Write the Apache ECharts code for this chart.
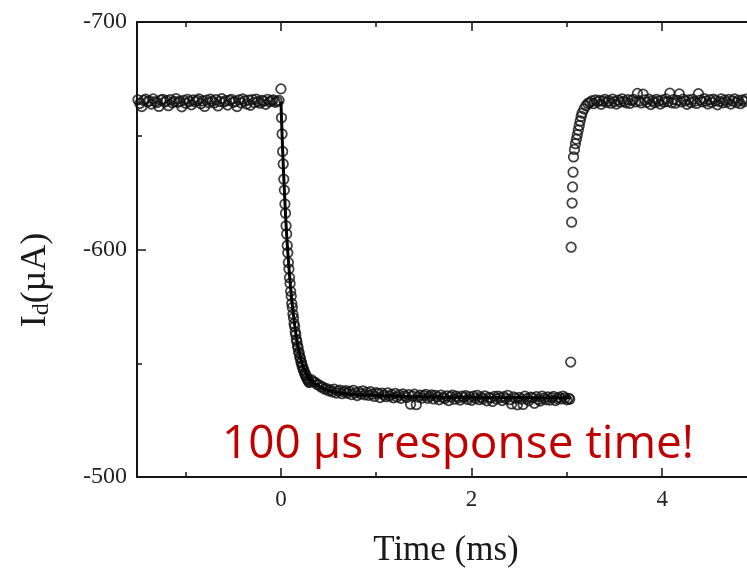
<!DOCTYPE html>
<html>
<head>
<meta charset="utf-8">
<script src="https://cdn.jsdelivr.net/npm/echarts@6/dist/echarts.min.js"></script>
<style>
  html, body { margin: 0; padding: 0; background: #fff; }
  #chart { width: 747px; height: 571px; }
</style>
</head>
<body>
<div id="chart"></div>
<script>
// Drain current I_d (µA) sampled against time (ms): a step down at t = 0 and back up at ~3.04 ms.

// Steady level before the step, t = -1.50 ... -0.02 ms, every 0.02 ms
const baseStart = -1.5, baseStep = 0.02;
const baseValues = [
  -665.8,-664.2,-662.8,-665.5,-666.1,-664.9,-665.3,-663.9,-666.2,-665.0,
  -664.6,-662.9,-665.7,-666.0,-664.8,-665.4,-663.2,-665.9,-664.5,-665.1,
  -666.3,-664.7,-665.2,-662.7,-665.6,-664.3,-666.0,-665.0,-663.6,-665.8,
  -664.9,-665.5,-666.2,-664.1,-665.3,-662.9,-665.7,-664.6,-666.1,-665.2,
  -664.4,-665.9,-663.1,-665.0,-666.3,-664.8,-665.4,-663.5,-665.6,-666.0,
  -664.7,-665.1,-662.8,-665.8,-664.5,-666.2,-665.3,-664.0,-665.7,-663.4,
  -665.9,-664.6,-666.1,-665.0,-664.3,-665.6,-665.2,-663.8,-666.0,-664.9,
  -665.4,-665.8,-664.7,-665.1,-665.5
];

// Falling edge, t = 0 ... 0.30 ms, every 0.006 ms
const fallStart = 0, fallStep = 0.006;
const fallValues = [
  -670.6,-657.9,-650.8,-643.1,-637.6,-630.9,-626.1,-620.0,-615.9,-610.4,
  -606.8,-601.8,-598.6,-594.3,-591.4,-587.6,-585.1,-581.6,-579.5,-576.3,
  -574.5,-571.6,-569.9,-567.4,-566.1,-563.7,-562.5,-560.4,-559.5,-557.6,
  -556.8,-555.0,-554.4,-552.7,-552.2,-550.6,-550.2,-548.8,-548.5,-547.2,
  -547.0,-545.8,-545.6,-544.6,-544.5,-543.4,-543.4,-542.5,-542.5,-541.6,
  -541.6
];

// Low level, t = 0.32 ... 3.02 ms, every 0.02 ms
const lowStart = 0.32, lowStep = 0.02;
const lowValues = [
  -542.8,-541.9,-541.6,-540.7,-540.5,-539.5,-539.6,-538.6,-538.9,-537.9,
  -538.3,-537.4,-538.6,-536.9,-537.8,-538.2,-536.6,-537.5,-538.0,-536.8,
  -537.6,-536.2,-538.1,-537.0,-535.8,-537.4,-536.5,-537.9,-536.1,-537.2,
  -535.9,-537.5,-536.4,-535.4,-537.1,-536.7,-534.9,-536.9,-536.0,-535.3,
  -537.0,-535.6,-536.3,-534.8,-536.8,-535.2,-536.1,-534.6,-536.5,-535.7,
  -534.9,-536.2,-532.0,-535.5,-536.4,-531.8,-535.1,-536.0,-534.7,-535.8,
  -536.3,-534.6,-535.4,-536.1,-534.3,-535.9,-535.2,-533.9,-536.0,-535.0,
  -534.5,-535.7,-533.6,-535.3,-536.0,-534.2,-535.5,-534.8,-533.8,-535.6,
  -534.9,-535.8,-534.1,-535.2,-533.7,-535.5,-534.6,-535.9,-534.0,-535.1,
  -534.4,-535.7,-533.5,-535.0,-534.7,-533.2,-535.4,-534.3,-535.6,-534.8,
  -533.6,-535.3,-534.5,-535.9,-534.0,-532.1,-535.2,-534.6,-531.7,-535.0,
  -534.2,-531.9,-535.5,-534.4,-533.5,-535.1,-534.8,-532.4,-535.3,-534.1,
  -533.4,-535.6,-534.7,-534.0,-535.2,-533.8,-534.9,-535.4,-533.6,-534.5,
  -535.1,-534.3,-535.6,-534.8,-533.9,-534.6
];

// Rising edge (irregular spacing)
const riseTimes = [3.03, 3.04, 3.045, 3.05, 3.055, 3.06, 3.065, 3.07, 3.08, 3.09,
                   3.10, 3.11, 3.12, 3.13, 3.14, 3.15, 3.16, 3.18, 3.20, 3.22];
const riseValues = [-534.2, -550.5, -601.0, -612.0, -620.4, -627.5, -634.0, -640.7, -644.0, -646.5,
                    -648.5, -650.5, -652.5, -654.5, -656.5, -658.5, -660.0, -661.8, -663.2, -664.2];

// Recovered level, t = 3.24 ... 4.98 ms, every 0.02 ms
const highStart = 3.24, highStep = 0.02;
const highValues = [
  -664.6,-665.3,-664.1,-665.8,-664.9,-665.5,-663.8,-665.2,-666.0,-664.7,
  -665.4,-664.3,-666.1,-665.0,-663.9,-665.7,-664.8,-666.2,-665.1,-664.5,
  -665.9,-664.2,-665.6,-666.0,-664.9,-668.6,-665.3,-664.4,-668.3,-665.8,
  -664.7,-666.1,-663.7,-665.4,-664.6,-666.0,-665.2,-663.9,-665.7,-664.8,
  -666.2,-665.0,-668.7,-664.5,-665.9,-664.3,-665.6,-668.4,-664.9,-666.1,
  -665.3,-663.8,-665.8,-664.6,-666.0,-665.1,-664.2,-668.5,-665.7,-664.9,
  -666.3,-665.2,-664.0,-665.9,-664.7,-666.1,-665.4,-663.6,-665.0,-666.2,
  -664.5,-665.7,-664.8,-666.0,-663.9,-665.3,-666.2,-664.6,-665.5,-664.1,
  -665.8,-665.0,-666.1,-664.4,-665.6,-664.9,-665.3,-664.7
];

// Fitted decay curve (solid line)
const fitTimes  = [0, 0.02, 0.04, 0.06, 0.08, 0.10, 0.12, 0.15, 0.18, 0.22, 0.26,
                   0.30, 0.36, 0.44, 0.55, 0.70, 0.90, 1.2, 1.6, 2.0, 2.5, 3.04];
const fitValues = [-665, -641.5, -622.5, -606.5, -594.5, -584, -575.5, -565, -557, -550, -546,
                   -543, -541, -539, -537.5, -536.5, -536, -535.5, -535.2, -535, -534.9, -534.8];

// Axis range and ticks
const xMin = -1.51, xMax = 4.89;
const xMajorTicks = [0, 2, 4];
const xMinorTicks = [-1, 1, 3];
const yMin = -700, yMax = -500, yStep = 100;

function segment(start, step, values) {
  return values.map((v, i) => [Math.round((start + i * step) * 10000) / 10000, v]);
}
const points = [].concat(
  segment(baseStart, baseStep, baseValues),
  segment(fallStart, fallStep, fallValues),
  segment(lowStart, lowStep, lowValues),
  riseTimes.map((t, i) => [t, riseValues[i]]),
  segment(highStart, highStep, highValues)
);
const fitLine = fitTimes.map((t, i) => [t, fitValues[i]]);

const serif = '"Liberation Serif", "Times New Roman", serif';
const ink = '#151515';

function xAxisDef(position, ticks, tickLen, showLine, showLabel) {
  return {
    type: 'value', position: position, min: xMin, max: xMax,
    axisLine: { show: showLine, onZero: false, lineStyle: { color: ink, width: 2 } },
    axisTick: { show: true, inside: true, length: tickLen, customValues: ticks,
                lineStyle: { color: ink, width: 1.5 } },
    axisLabel: { show: showLabel, customValues: ticks, margin: 11,
                 fontFamily: serif, fontSize: 23, color: '#222' },
    splitLine: { show: false }
  };
}

const chart = echarts.init(document.getElementById('chart'), null, { renderer: 'canvas' });
chart.setOption({
  animation: false,
  backgroundColor: '#fff',
  grid: { left: 137, right: 0, top: 22, bottom: 94, containLabel: false },
  xAxis: [
    xAxisDef('bottom', xMajorTicks, 9, true, true),
    xAxisDef('top', xMajorTicks, 9, true, false),
    xAxisDef('bottom', xMinorTicks, 5, false, false),
    xAxisDef('top', xMinorTicks, 5, false, false)
  ],
  yAxis: [{
    type: 'value', position: 'left', inverse: true,
    min: yMin, max: yMax, interval: yStep,
    axisLine: { show: true, onZero: false, lineStyle: { color: ink, width: 2 } },
    axisTick: { show: true, inside: true, length: 9, lineStyle: { color: ink, width: 1.5 } },
    minorTick: { show: true, splitNumber: 2, length: 5, lineStyle: { color: ink, width: 1.5 } },
    axisLabel: { margin: 10, fontFamily: serif, fontSize: 24, color: '#222' },
    splitLine: { show: false },
    minorSplitLine: { show: false }
  }],
  series: [
    {
      type: 'scatter',
      data: points,
      symbol: 'circle',
      symbolSize: 9.5,
      itemStyle: { color: 'rgba(255,255,255,0)', borderColor: '#111', borderWidth: 1.75 },
      z: 2
    },
    {
      type: 'line',
      data: fitLine,
      smooth: 0.35,
      showSymbol: false,
      lineStyle: { color: '#000', width: 3 },
      z: 3
    }
  ],
  graphic: [
    {
      type: 'text', x: 446, y: 551, z: 100,
      style: { text: 'Time (ms)', fontFamily: serif, fontSize: 35, fill: '#1a1a1a',
               align: 'center', verticalAlign: 'middle' }
    },
    {
      type: 'text', x: 36, y: 280, rotation: Math.PI / 2, z: 100,
      style: {
        text: '{m|I}{s|d}{m|(µA)}',
        align: 'center', verticalAlign: 'middle',
        rich: {
          m: { fontFamily: serif, fontSize: 36, fill: '#1a1a1a' },
          s: { fontFamily: serif, fontSize: 24, fill: '#1a1a1a', verticalAlign: 'bottom' }
        }
      }
    },
    {
      type: 'text', x: 222, y: 445, z: 100,
      style: { text: '100 µs response time!', fontFamily: '"Open Sans", "Noto Sans", sans-serif',
               fontSize: 46, fill: '#c00000', align: 'left', verticalAlign: 'middle' }
    }
  ]
});
</script>
</body>
</html>
